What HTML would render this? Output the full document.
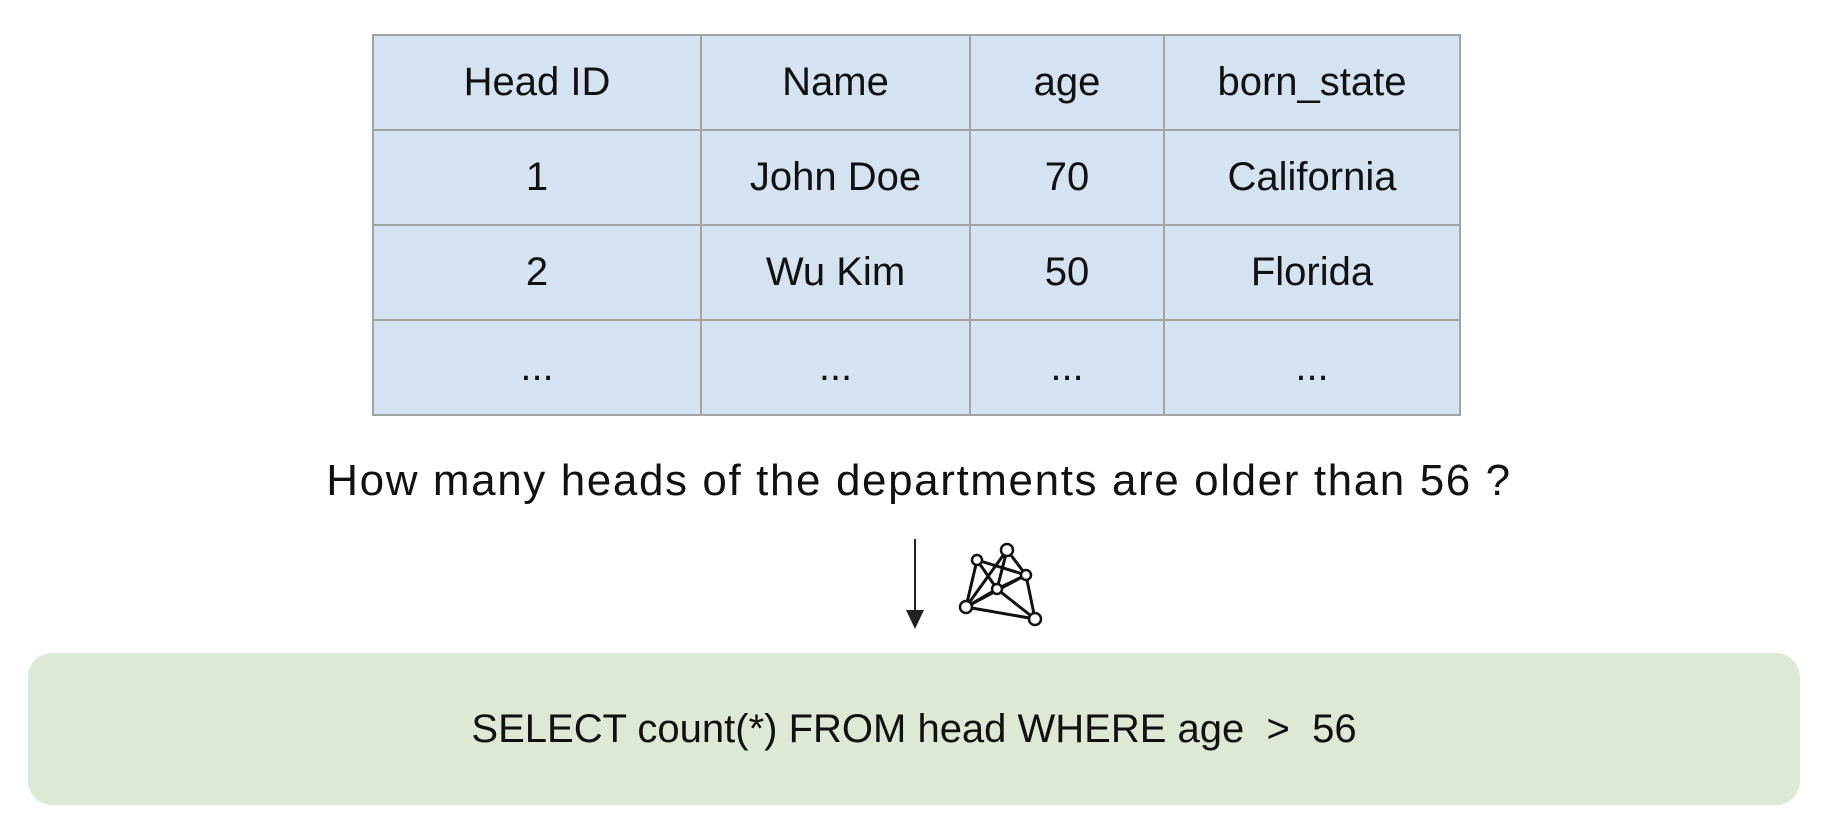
<!DOCTYPE html>
<html><head><meta charset="utf-8"><style>
body{margin:0;width:1838px;height:834px;background:#fff;position:relative;overflow:hidden;font-family:"Liberation Sans",sans-serif;color:#111}
table{position:absolute;left:372px;top:34px;border-collapse:collapse;background:#d5e2f1}
td{border:2px solid #a3a3a3;text-align:center;font-size:40px;height:93px;padding:0}
.q{position:absolute;left:0;width:1838px;top:456px;text-align:center;font-size:44px;letter-spacing:1.6px}
.box{position:absolute;left:28px;top:653px;width:1772px;height:152px;background:#dde8d5;border-radius:24px;text-align:center;line-height:152px;font-size:40px}
</style></head><body>
<table>
<tr><td style="width:326px">Head ID</td><td style="width:267px">Name</td><td style="width:192px">age</td><td style="width:294px">born_state</td></tr>
<tr><td>1</td><td>John Doe</td><td>70</td><td>California</td></tr>
<tr><td>2</td><td>Wu Kim</td><td>50</td><td>Florida</td></tr>
<tr><td>...</td><td>...</td><td>...</td><td>...</td></tr>
</table>
<div class="q">How many heads of the departments are older than 56 ?</div>
<svg style="position:absolute;left:0;top:0" width="1838" height="834">
<line x1="915" y1="539" x2="915" y2="612" stroke="#222" stroke-width="2"/>
<polygon points="906,610 924,610 915,629" fill="#222"/>
<g stroke="#111" stroke-width="3" fill="none">
<line x1="977" y1="560" x2="966" y2="607"/><line x1="977" y1="560" x2="1026" y2="575"/><line x1="977" y1="560" x2="997" y2="589"/>
<line x1="1007" y1="550" x2="966" y2="607"/><line x1="1007" y1="550" x2="1026" y2="575"/><line x1="1007" y1="550" x2="997" y2="589"/>
<line x1="1026" y1="575" x2="997" y2="589"/><line x1="1026" y1="575" x2="1035" y2="619"/><line x1="997" y1="589" x2="966" y2="607"/>
<line x1="997" y1="589" x2="1035" y2="619"/><line x1="966" y1="607" x2="1035" y2="619"/><line x1="1026" y1="575" x2="966" y2="607"/>
</g>
<g stroke="#111" stroke-width="2.5" fill="#fff">
<circle cx="977" cy="560" r="5"/><circle cx="1007" cy="550" r="6"/><circle cx="1026" cy="575" r="5"/><circle cx="997" cy="589" r="5"/><circle cx="966" cy="607" r="6"/><circle cx="1035" cy="619" r="6"/>
</g></svg>
<div class="box">SELECT count(*) FROM head WHERE age &nbsp;&gt;&nbsp; 56</div>
</body></html>
